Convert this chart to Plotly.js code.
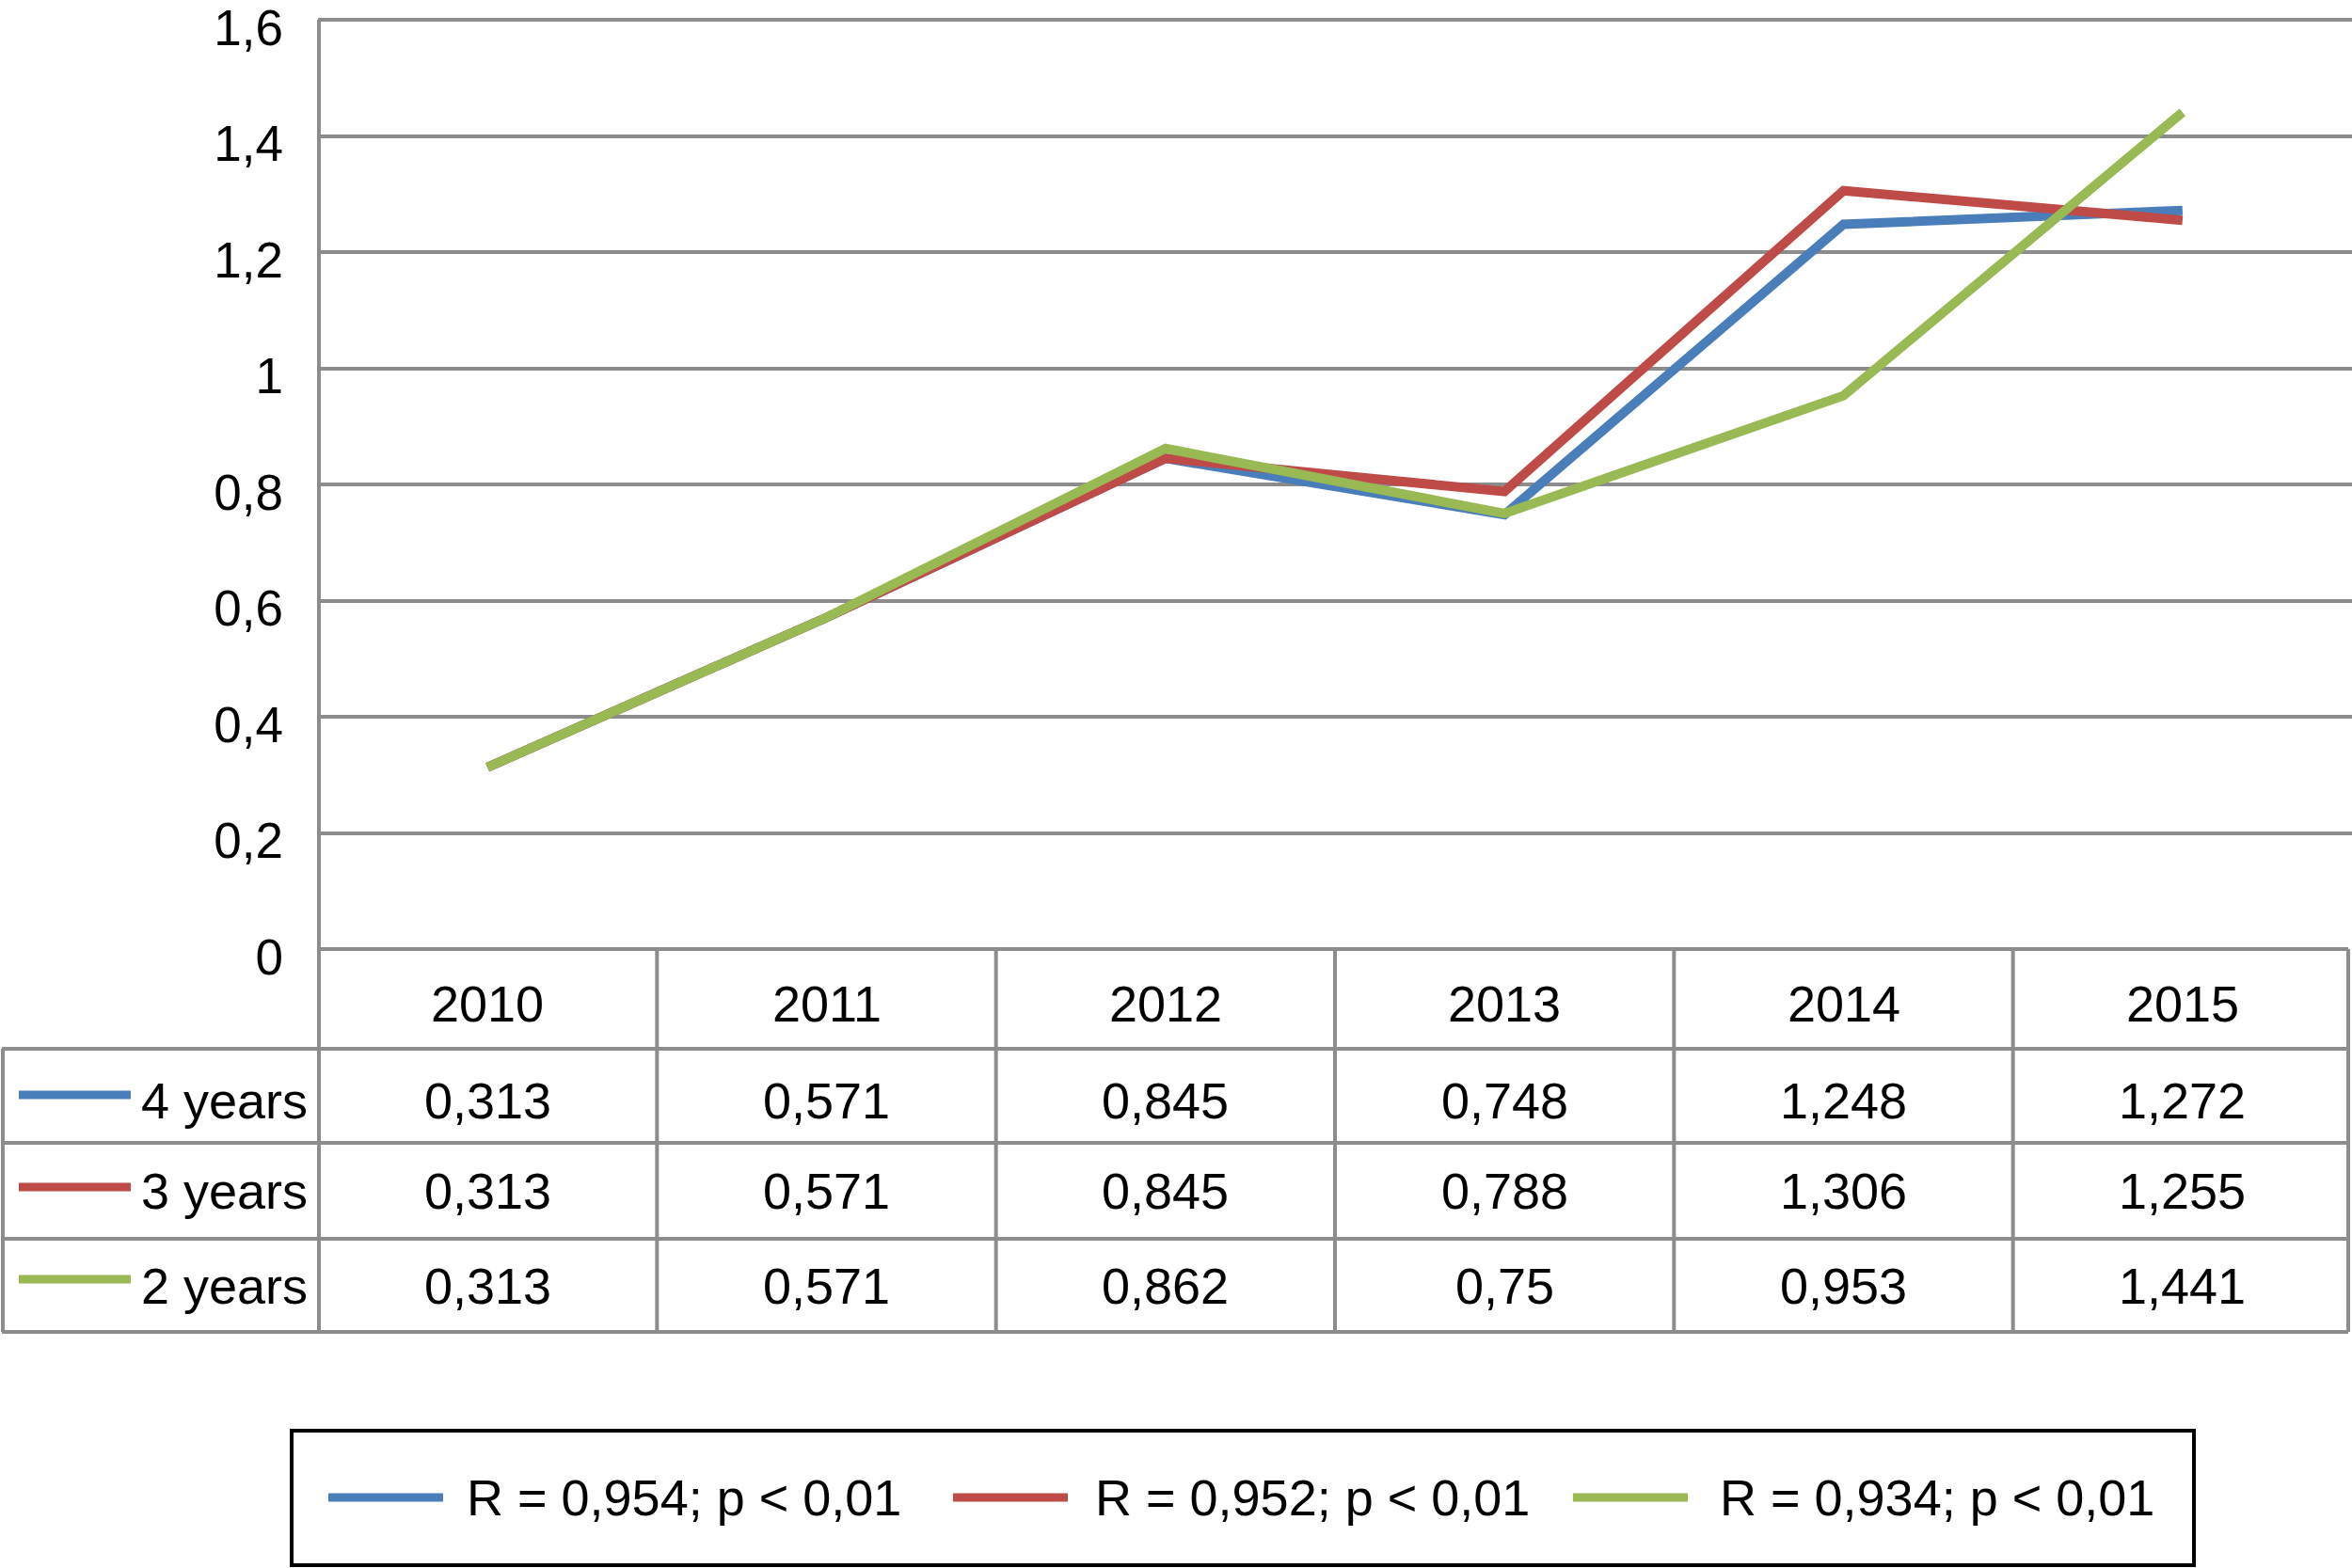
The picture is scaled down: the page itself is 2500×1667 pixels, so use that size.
<!DOCTYPE html>
<html>
<head>
<meta charset="utf-8">
<script src="https://cdn.plot.ly/plotly-3.0.1.min.js"></script>
<style>html,body{margin:0;padding:0;background:#fff;}#chart{width:2500px;height:1667px;}</style>
</head>
<body>
<div id="chart"></div>
<script>
// ---- data ----
const years = ['2010', '2011', '2012', '2013', '2014', '2015'];
const seriesNames = ['4 years', '3 years', '2 years'];
const fourYears = [0.313, 0.571, 0.845, 0.748, 1.248, 1.272];
const threeYears = [0.313, 0.571, 0.845, 0.788, 1.306, 1.255];
const twoYears = [0.313, 0.571, 0.862, 0.75, 0.953, 1.441];
const legendLabels = ['R = 0,954; p < 0,01', 'R = 0,952; p < 0,01', 'R = 0,934; p < 0,01'];
const seriesColors = ['#4a7ebb', '#be4b48', '#98b954'];
const seriesValues = [fourYears, threeYears, twoYears];
const yMax = 1.6;

// ---- geometry (pixels) ----
const W = 2500, H = 1667, L = 338, BOT = 1009, TOPLINE = 21;
const RANGE_TOP = 1.61; // a hair above the top tick so its gridline/label are kept
const T = Math.round(BOT - (BOT - TOPLINE) * RANGE_TOP / yMax);
const py = p => (BOT - p) / (BOT - T);
const px = p => (p - L) / (W - L);
const FONT = 'Liberation Sans, Arial, Helvetica, sans-serif';
const FS = 54;
const GRID = '#8c8c8c';
const GW = 4;

const headerY = 1067;
const rowY = [1170, 1266, 1367];
const swatchY = [1164, 1262, 1360];
const rowLines = [1115, 1215, 1317, 1416];
const legendX = [[349, 471, 494], [1013, 1135, 1162], [1672, 1794, 1826]];
const legendY = 1592;

const fmt = v => String(v).replace('.', ',');

const traces = seriesValues.map((vals, i) => ({
  type: 'scatter', mode: 'lines', x: years, y: vals, name: seriesNames[i],
  line: {color: seriesColors[i], width: 10}, hoverinfo: 'skip', cliponaxis: false
}));

const shapes = [];
const annotations = [];
const line = (x0, y0, x1, y1, color, width, xref, yref) => shapes.push({
  type: 'line', xref: xref || 'paper', yref: yref || 'paper', x0, y0, x1, y1,
  line: {color, width}
});

// left axis line (from top tick down through table)
line(px(339), py(TOPLINE), px(339), py(1416), GRID, GW);
// table header top
line(px(338), py(BOT), px(2496), py(BOT), GRID, GW);
// row lines
rowLines.forEach(r => line(px(2), py(r), px(2496), py(r), GRID, GW));
// column boundaries via category axis
for (let i = 1; i < years.length; i++) line(i - 0.5, py(BOT), i - 0.5, py(1416), GRID, GW, 'x');
// right border
line(px(2496), py(BOT), px(2496), py(1416), GRID, GW);
// left column border
line(px(3), py(1115), px(3), py(1416), GRID, GW);

// header (category index on the x axis)
years.forEach((y, c) => annotations.push({
  xref: 'x', yref: 'paper', x: c, y: py(headerY), text: y, showarrow: false,
  xanchor: 'center', yanchor: 'middle', font: {family: FONT, size: FS, color: '#000'}
}));
// rows
seriesValues.forEach((vals, r) => {
  line(px(20), py(swatchY[r]), px(139), py(swatchY[r]), seriesColors[r], 9);
  annotations.push({
    xref: 'paper', yref: 'paper', x: px(329), y: py(rowY[r]), text: seriesNames[r], showarrow: false,
    xanchor: 'right', yanchor: 'middle', font: {family: FONT, size: FS, color: '#000'}
  });
  vals.forEach((v, c) => annotations.push({
    xref: 'x', yref: 'paper', x: c, y: py(rowY[r]), text: fmt(v), showarrow: false,
    xanchor: 'center', yanchor: 'middle', font: {family: FONT, size: FS, color: '#000'}
  }));
});

// bottom legend box
shapes.push({type: 'rect', xref: 'paper', yref: 'paper', x0: px(310), x1: px(2332), y0: py(1521), y1: py(1664),
  line: {color: '#000', width: 4}, fillcolor: 'rgba(0,0,0,0)'});
legendLabels.forEach((t, i) => {
  line(px(legendX[i][0]), py(legendY), px(legendX[i][1]), py(legendY), seriesColors[i], 9);
  annotations.push({
    xref: 'paper', yref: 'paper', x: px(legendX[i][2]), y: py(legendY), text: t, showarrow: false,
    xanchor: 'left', yanchor: 'middle', font: {family: FONT, size: FS, color: '#000'}
  });
});

const layout = {
  width: W, height: H,
  margin: {l: L, r: 0, t: T, b: H - BOT, pad: 0},
  paper_bgcolor: '#fff', plot_bgcolor: '#fff',
  separators: ', ',
  showlegend: false,
  font: {family: FONT, size: FS, color: '#000'},
  xaxis: {type: 'category', range: [-0.5, 5.5], showticklabels: false, showgrid: false,
    zeroline: false, showline: false, ticks: ''},
  yaxis: {range: [0, RANGE_TOP], dtick: 0.2, tick0: 0, showgrid: true, gridcolor: GRID, gridwidth: GW,
    zeroline: false, showline: false, ticks: '', ticklabelstandoff: 36, ticklabelshift: 8,
    ticklabeloverflow: 'allow',
    tickfont: {family: FONT, size: 53, color: '#000'}},
  shapes, annotations
};

Plotly.newPlot('chart', traces, layout, {staticPlot: true});
</script>
</body>
</html>
